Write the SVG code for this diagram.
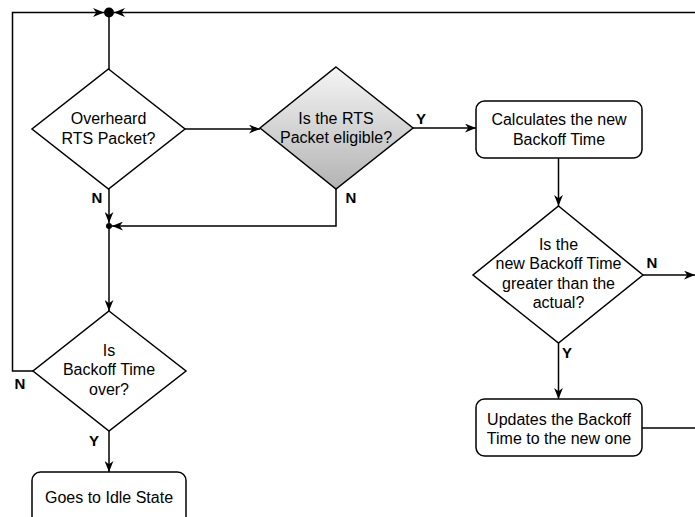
<svg xmlns="http://www.w3.org/2000/svg" width="695" height="517" viewBox="0 0 695 517">
<style>
.shape{fill:#ffffff;stroke:#000000;stroke-width:1.5}
.txt{font-family:"Liberation Sans",Arial,Helvetica,sans-serif;font-size:16px;fill:#000000;text-anchor:middle;dominant-baseline:central}
.lbl{font-family:"Liberation Sans",Arial,Helvetica,sans-serif;font-size:15px;font-weight:bold;fill:#000000;text-anchor:middle;dominant-baseline:central}
.edge{fill:none;stroke:#000000;stroke-width:1.5}
.arr{marker-end:url(#arrow)}
</style>
<defs>
<marker id="arrow" viewBox="0 0 10 8" refX="10" refY="4" markerWidth="11" markerHeight="9" markerUnits="userSpaceOnUse" orient="auto">
<path d="M0,0 L10,4 L0,8 L3,4 Z" fill="#000000"/>
</marker>
<linearGradient id="grad" x1="0" y1="0" x2="0" y2="1">
<stop offset="0" stop-color="#f5f5f5"/>
<stop offset="1" stop-color="#b3b3b3"/>
</linearGradient>
</defs>
<g id="connectors">
<path class="edge" d="M109,12.5 L109,69"/>
<path class="edge arr" d="M185,129 L260,129"/>
<path class="edge arr" d="M413,128 L476,128"/>
<path class="edge arr" d="M558.5,158 L558.5,206"/>
<path class="edge arr" d="M643,275 L695,275"/>
<path class="edge arr" d="M558.5,343 L558.5,399"/>
<path class="edge" d="M642,428 L695,428"/>
<path class="edge arr" d="M695,12.5 L114,12.5"/>
<path class="edge arr" d="M109,189 L109,223"/>
<path class="edge arr" d="M336,189 L336,226 L112,226"/>
<path class="edge arr" d="M109,226 L109,311"/>
<path class="edge arr" d="M33,371 L12.5,371 L12.5,12.5 L104,12.5"/>
<path class="edge arr" d="M109,431 L109,472"/>
<circle cx="109" cy="12.5" r="5" fill="#000000"/>
<circle cx="109" cy="226" r="3" fill="#000000"/>
</g>
<g id="labels">
<text class="lbl" x="97" y="197">N</text>
<text class="lbl" x="421" y="118">Y</text>
<text class="lbl" x="351" y="197">N</text>
<text class="lbl" x="652" y="262">N</text>
<text class="lbl" x="567" y="352">Y</text>
<text class="lbl" x="20" y="383">N</text>
<text class="lbl" x="94" y="440">Y</text>
</g>
<g id="overheard">
<polygon class="shape" points="108.5,69 185,129 108.5,189 32,129"/>
<text class="txt" x="108.5" y="118">Overheard</text>
<text class="txt" x="108.5" y="138">RTS Packet?</text>
</g>
<g id="eligible">
<polygon class="shape" points="336,67 413,128 336,189 260,128" style="fill:url(#grad)"/>
<text class="txt" x="336" y="118">Is the RTS</text>
<text class="txt" x="336" y="137">Packet eligible?</text>
</g>
<g id="calculates">
<rect class="shape" x="476" y="101" width="166" height="57" rx="8.5"/>
<text class="txt" x="559" y="119">Calculates the new</text>
<text class="txt" x="559" y="139">Backoff Time</text>
</g>
<g id="greater">
<polygon class="shape" points="558.5,206 643,275 558.5,343 473,275"/>
<text class="txt" x="558.5" y="244">Is the</text>
<text class="txt" x="558.5" y="263.5">new Backoff Time</text>
<text class="txt" x="558.5" y="283">greater than the</text>
<text class="txt" x="558.5" y="302.5">actual?</text>
</g>
<g id="updates">
<rect class="shape" x="476" y="399" width="166" height="57" rx="8.5"/>
<text class="txt" x="559" y="419">Updates the Backoff</text>
<text class="txt" x="559" y="438">Time to the new one</text>
</g>
<g id="backoffover">
<polygon class="shape" points="109,311 186,371 109,431 33,371"/>
<text class="txt" x="109" y="350">Is</text>
<text class="txt" x="109" y="369.5">Backoff Time</text>
<text class="txt" x="109" y="389">over?</text>
</g>
<g id="idle">
<rect class="shape" x="32" y="472" width="154" height="57" rx="8.5"/>
<text class="txt" x="109" y="497">Goes to Idle State</text>
</g>
</svg>
